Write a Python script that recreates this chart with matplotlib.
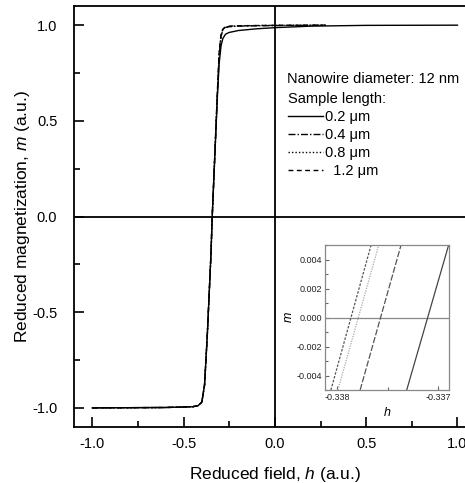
# -*- coding: utf-8 -*-
"""Reduced hysteresis branch m(h) for 12 nm nanowires of four lengths,
with a zoom on the coercive field in an inset."""
import matplotlib; matplotlib.use('Agg')
import matplotlib.pyplot as plt
from matplotlib.ticker import MultipleLocator

plt.rcParams['font.family'] = ['Liberation Sans', 'DejaVu Sans']
plt.rcParams['mathtext.fontset'] = 'custom'
plt.rcParams['mathtext.rm'] = 'Liberation Sans'
plt.rcParams['mathtext.it'] = 'Liberation Sans:italic'
plt.rcParams['axes.unicode_minus'] = False

# branch for L = 0.2 um (full field range)
h_02 = [-1.0, -0.6, -0.45, -0.42, -0.40, -0.385, -0.37, -0.36, -0.35, -0.343, -0.335,
        -0.325, -0.315, -0.305, -0.295, -0.285, -0.27, -0.25, -0.2, -0.1, 0.0, 0.2, 0.5, 1.0]
m_02 = [-1.0, -0.998, -0.994, -0.988, -0.97, -0.88, -0.62, -0.41, -0.2, 0.0, 0.18,
        0.40, 0.62, 0.80, 0.89, 0.93, 0.953, 0.962, 0.972, 0.981, 0.987, 0.995, 0.999, 1.0]
# longer samples, computed up to h ~ 0.3
h_long = [-1.0, -0.6, -0.45, -0.42, -0.40, -0.385, -0.37, -0.36, -0.35, -0.343, -0.335,
          -0.325, -0.315, -0.305, -0.295, -0.285, -0.27, -0.25, -0.2, -0.1, 0.0, 0.28]
m_04 = [-1.0, -0.998, -0.994, -0.988, -0.97, -0.88, -0.62, -0.41, -0.2, 0.0, 0.18,
        0.41, 0.64, 0.84, 0.94, 0.975, 0.988, 0.992, 0.995, 0.997, 0.998, 1.0]
m_08 = [-1.0, -0.998, -0.994, -0.988, -0.97, -0.88, -0.62, -0.41, -0.2, 0.0, 0.18,
        0.41, 0.64, 0.85, 0.945, 0.978, 0.99, 0.993, 0.996, 0.998, 0.999, 1.0]
m_12 = [-1.0, -0.998, -0.994, -0.988, -0.97, -0.88, -0.62, -0.41, -0.2, 0.0, 0.18,
        0.41, 0.65, 0.86, 0.95, 0.98, 0.992, 0.995, 0.997, 0.998, 0.999, 1.0]

# inset: field at m = -0.005 and m = +0.005 for each length
m_ins = [-0.005, 0.005]
h_ins_02 = [-0.337310, -0.336894]
h_ins_04 = [-0.337772, -0.337366]
h_ins_08 = [-0.337993, -0.337587]
h_ins_12 = [-0.338062, -0.337663]

labels = ['0.2 μm', '0.4 μm', '0.8 μm', '  1.2 μm']
styles = ['-', (0, (5, 1.5, 1, 1.5)), (0, (1, 1.5)), (0, (3.5, 2.5))]

fig = plt.figure(figsize=(4.65, 4.83), dpi=100)
ax = fig.add_axes([0.1591, 0.1159, 0.864, 0.8716])
ax.axhline(0, color='k', lw=1.3, zorder=1)
ax.axvline(0, color='k', lw=1.3, zorder=1)
lines = []
for h, m, ls, lab in zip([h_02, h_long, h_long, h_long], [m_02, m_04, m_08, m_12], styles, labels):
    ln, = ax.plot(h, m, color='k', lw=1.0, ls=ls, label=lab)
    lines.append(ln)
ax.set_xlim(-1.1, 1.1)
ax.set_ylim(-1.1, 1.1)
ax.xaxis.set_major_locator(MultipleLocator(0.5))
ax.xaxis.set_minor_locator(MultipleLocator(0.25))
ax.yaxis.set_major_locator(MultipleLocator(0.5))
ax.yaxis.set_minor_locator(MultipleLocator(0.25))
ax.tick_params(which='both', direction='in', top=False, right=False, labelsize=10.5, width=1.2)
ax.tick_params(which='major', length=7)
ax.tick_params(which='minor', length=4)
ax.tick_params(axis='x', which='major', pad=7)
ax.tick_params(axis='y', which='major', pad=12)
for s in ax.spines.values():
    s.set_linewidth(1.3)
ax.set_xlabel(r'Reduced field, $h$ (a.u.)', fontsize=12.5, labelpad=10)
ax.set_ylabel(r'Reduced magnetization, $m$ (a.u.)', fontsize=12.5, labelpad=0)

ax.text(0.530, 0.826, 'Nanowire diameter: 12 nm', transform=ax.transAxes,
        fontsize=10.5, va='center', ha='left')
leg = ax.legend(handles=lines, title='Sample length:', loc='upper left',
                bbox_to_anchor=(0.515, 0.812), frameon=False, fontsize=10.5,
                title_fontsize=10.5, handlelength=2.4, handletextpad=0.1,
                labelspacing=0.27, borderpad=0, alignment='left')

# inset around the coercive field
ins = fig.add_axes([0.699, 0.1925, 0.2667, 0.3002])
grey = '#666666'
ins.axhline(0, color='#888888', lw=0.9)
ins.plot(h_ins_02, m_ins, color='#444444', lw=0.9, ls='-')
ins.plot(h_ins_04, m_ins, color='#555555', lw=0.9, ls=(0, (5, 1.5)))
ins.plot(h_ins_08, m_ins, color='#aaaaaa', lw=0.9, ls=(0, (1, 1)))
ins.plot(h_ins_12, m_ins, color='#555555', lw=0.9, ls=(0, (2, 1.2)))
ins.set_xlim(-0.33812, -0.33689)
ins.set_ylim(-0.005, 0.005)
ins.set_xticks([-0.338, -0.337])
ins.set_xticklabels(['-0.338', '-0.337'])
ins.xaxis.set_minor_locator(MultipleLocator(0.0005))
ins.set_yticks([-0.004, -0.002, 0.0, 0.002, 0.004])
ins.set_yticklabels(['-0.004', '-0.002', '0.000', '0.002', '0.004'])
ins.yaxis.set_minor_locator(MultipleLocator(0.001))
ins.tick_params(which='both', direction='in', labelsize=6.5, color=grey, width=0.8,
                labelcolor='#222222', pad=2)
ins.tick_params(which='major', length=3)
ins.tick_params(which='minor', length=2)
for s in ins.spines.values():
    s.set_color('#888888'); s.set_linewidth(0.9)
ins.set_xlabel(r'$h$', fontsize=9, labelpad=3)
ins.set_ylabel(r'$m$', fontsize=9, labelpad=1)

fig.savefig('out.png', dpi=100)
